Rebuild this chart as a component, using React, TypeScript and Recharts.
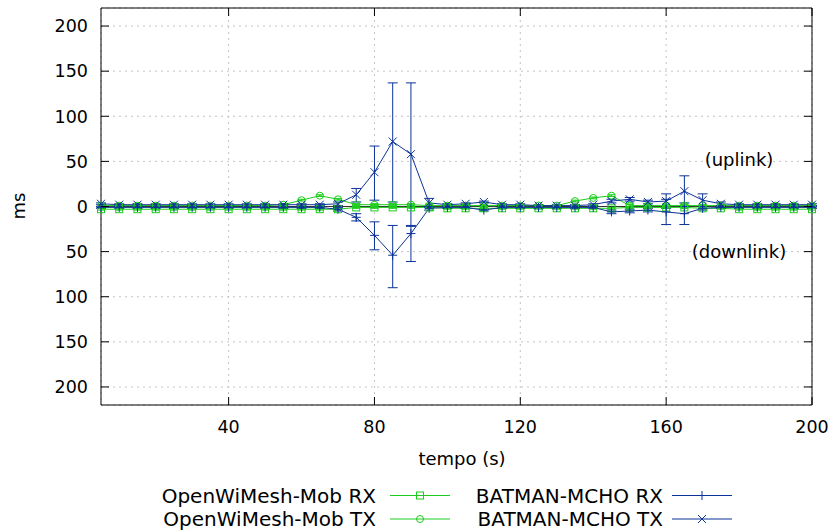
import React from 'react';
import {
  ComposedChart,
  Line,
  XAxis,
  YAxis,
  CartesianGrid,
  ErrorBar,
  ReferenceLine,
  ReferenceArea,
} from 'recharts';

// tempo (s)
const times = [
  5, 10, 15, 20, 25, 30, 35, 40, 45, 50, 55, 60, 65, 70, 75, 80, 85, 90, 95, 100,
  105, 110, 115, 120, 125, 130, 135, 140, 145, 150, 155, 160, 165, 170, 175, 180, 185, 190, 195, 200,
];

// uplink (TX) drawn above zero, downlink (RX) drawn below zero
const owmTx = [
  1, 1, 1, 1, 1, 1, 1, 1, 1, 1, 2, 7, 12, 8, 2, 2, 2, 2, 1, 1,
  1, 1, 1, 1, 1, 1, 6, 9.5, 12, 1, 1, 1, 1, 1, 1, 1, 1, 1, 1, 1,
];
const owmTxErr = [
  1, 1, 1, 1, 1, 1, 1, 1, 1, 1, 1, 1, 1, 1, 1, 1, 1, 1, 1, 1,
  1, 1, 1, 1, 1, 1, 1, 1, 1, 1, 1, 1, 1, 1, 1, 1, 1, 1, 1, 1,
];
const owmRx = [
  -3, -3, -3, -3, -3, -3, -3, -3, -3, -3, -3, -3, -3, -3, -1, -1, -1, -1, -1, -2,
  -2, -2, -2, -2, -2, -2, -2, -2, -2, -1, -1, -1, -1, -2, -2, -3, -3, -3, -3, -3,
];
const owmRxErr = [
  1, 1, 1, 1, 1, 1, 1, 1, 1, 1, 1, 1, 1, 1, 1, 1, 1, 1, 1, 1,
  1, 1, 1, 1, 1, 1, 1, 1, 1, 1, 1, 1, 1, 1, 1, 1, 1, 1, 1, 1,
];
const batTx = [
  3, 2, 2, 2, 2, 2, 2, 2, 2, 2, 2, 2, 2, 3, 13, 38, 72, 58, 4, 2,
  3, 5, 2, 2, 1, 1, 1, 2, 6, 8, 5, 6, 17, 7, 3, 2, 2, 2, 2, 2,
];
const batTxErr: (number | [number, number])[] = [
  1, 1, 1, 1, 1, 1, 1, 1, 1, 1, 1, 1, 1, 2, [8, 7], [31, 29], [67, 65], [80, 79], 5, 1,
  1, 1, 1, 1, 1, 1, 1, 1, 2, 2, 2, 8, 17, 7, 2, 1, 1, 1, 1, 1,
];
const batRx = [
  -1, -1, -1, -1, -1, -1, -1, -1, -1, -1, -1, -1, -1, -3, -12, -32, -54, -30, -2, -1,
  -1, -4, -1, -1, -1, -1, -1, -1, -6, -5, -4, -6, -8, -2, -1, -1, -1, -1, -1, -1,
];
const batRxErr: (number | [number, number])[] = [
  1, 1, 1, 1, 1, 1, 1, 1, 1, 1, 1, 1, 1, 2, 4, [16, 15], [36, 33], [31, 9], 2, 1,
  1, 1, 1, 1, 1, 1, 1, 1, 2, 2, 2, 14, 12, 2, 1, 1, 1, 1, 1, 1,
];

const xTicks = [40, 80, 120, 160, 200];
const yTicks = [-200, -150, -100, -50, 0, 50, 100, 150, 200];

const GREEN = '#1ccc1c';
const BLUE = '#0c3399';
const FONT = '"DejaVu Sans", sans-serif';

const PLOT_L = 101;
const PLOT_R = 812;
const PLOT_T = 8;
const PLOT_B = 405;

const data = times.map((t, i) => ({
  t,
  owmTx: owmTx[i],
  owmTxErr: owmTxErr[i],
  owmRx: owmRx[i],
  owmRxErr: owmRxErr[i],
  batTx: batTx[i],
  batTxErr: batTxErr[i],
  batRx: batRx[i],
  batRxErr: batRxErr[i],
}));

const Square = ({ cx, cy, color }: any) => (
  <rect x={cx - 3.5} y={cy - 3.5} width={7} height={7} fill="none" stroke={color} strokeWidth={1} />
);
const Circle = ({ cx, cy, color }: any) => (
  <circle cx={cx} cy={cy} r={3.5} fill="none" stroke={color} strokeWidth={1} />
);
const Plus = ({ cx, cy, color }: any) => (
  <path d={`M${cx - 4.5},${cy}H${cx + 4.5}M${cx},${cy - 4.5}V${cy + 4.5}`} stroke={color} strokeWidth={1} />
);
const Cross = ({ cx, cy, color }: any) => (
  <path d={`M${cx - 4},${cy - 4}L${cx + 4},${cy + 4}M${cx - 4},${cy + 4}L${cx + 4},${cy - 4}`} stroke={color} strokeWidth={1} />
);

const mkDot = (Shape: any, color: string, name: string) => (p: any) =>
  <Shape key={`${name}-${p.index}`} cx={p.cx} cy={p.cy} color={color} />;

const YTick = ({ y, payload }: any) => (
  <g>
    <line x1={PLOT_L} x2={PLOT_L + 8} y1={y} y2={y} stroke="#000" />
    <line x1={PLOT_R - 8} x2={PLOT_R} y1={y} y2={y} stroke="#000" />
    <text x={PLOT_L - 13} y={y} dy="0.36em" textAnchor="end" fontSize={17.5} fontFamily={FONT} fill="#000">
      {Math.abs(payload.value)}
    </text>
  </g>
);

const XTick = ({ x, payload }: any) => (
  <g>
    <line x1={x} x2={x} y1={PLOT_B} y2={PLOT_B - 8} stroke="#000" />
    <line x1={x} x2={x} y1={PLOT_T} y2={PLOT_T + 8} stroke="#000" />
    <text x={x} y={PLOT_B + 28} textAnchor="middle" fontSize={17.5} fontFamily={FONT} fill="#000">
      {payload.value}
    </text>
  </g>
);

const LegendSample = ({ x, y, color, Shape }: any) => (
  <g>
    <line x1={x} x2={x + 60} y1={y} y2={y} stroke={color} strokeWidth={1} />
    <Shape cx={x + 30} cy={y} color={color} />
  </g>
);

const legendRows = [
  { label: 'OpenWiMesh-Mob RX', color: GREEN, Shape: Square, col: 0, row: 0 },
  { label: 'OpenWiMesh-Mob TX', color: GREEN, Shape: Circle, col: 0, row: 1 },
  { label: 'BATMAN-MCHO RX', color: BLUE, Shape: Plus, col: 1, row: 0 },
  { label: 'BATMAN-MCHO TX', color: BLUE, Shape: Cross, col: 1, row: 1 },
];

export default function App() {
  return (
    <div style={{ position: 'absolute', left: 0, top: 0, width: 834, height: 532, background: '#fff' }}>
      <ComposedChart width={834} height={532} data={data} margin={{ top: PLOT_T, right: 834 - PLOT_R, bottom: 0, left: 0 }}>
        <CartesianGrid stroke="#c4c4c4" strokeDasharray="2 4" />
        <XAxis
          dataKey="t"
          type="number"
          domain={[5, 200]}
          ticks={xTicks}
          height={532 - PLOT_B}
          axisLine={false}
          tickLine={false}
          tickSize={0}
          tick={<XTick />}
          interval={0}
        />
        <YAxis
          type="number"
          domain={[-220, 220]}
          ticks={yTicks}
          width={PLOT_L}
          axisLine={false}
          tickLine={false}
          tickSize={0}
          tick={<YTick />}
          interval={0}
        />
        <ReferenceLine y={0} stroke="#333" strokeWidth={1} />
        <Line dataKey="owmRx" stroke={GREEN} strokeWidth={1} dot={mkDot(Square, GREEN, 'owmRx')} isAnimationActive={false}>
          <ErrorBar dataKey="owmRxErr" direction="y" width={4} stroke={GREEN} strokeWidth={1} />
        </Line>
        <Line dataKey="owmTx" stroke={GREEN} strokeWidth={1} dot={mkDot(Circle, GREEN, 'owmTx')} isAnimationActive={false}>
          <ErrorBar dataKey="owmTxErr" direction="y" width={4} stroke={GREEN} strokeWidth={1} />
        </Line>
        <Line dataKey="batRx" stroke={BLUE} strokeWidth={1} dot={mkDot(Plus, BLUE, 'batRx')} isAnimationActive={false}>
          <ErrorBar dataKey="batRxErr" direction="y" width={5} stroke={BLUE} strokeWidth={1} />
        </Line>
        <Line dataKey="batTx" stroke={BLUE} strokeWidth={1} dot={mkDot(Cross, BLUE, 'batTx')} isAnimationActive={false}>
          <ErrorBar dataKey="batTxErr" direction="y" width={5} stroke={BLUE} strokeWidth={1} />
        </Line>
        <ReferenceArea x1={5} x2={200} y1={-220} y2={220} fill="none" fillOpacity={0} stroke="#000" strokeWidth={1} ifOverflow="visible" />
      </ComposedChart>
      <svg width={834} height={532} style={{ position: 'absolute', left: 0, top: 0, pointerEvents: 'none' }}>
        <g fontFamily={FONT} fontSize={18} fill="#000">
          <text x={739} y={166} textAnchor="middle">(uplink)</text>
          <text x={739} y={258} textAnchor="middle">(downlink)</text>
          <text x={462} y={465} textAnchor="middle">tempo (s)</text>
          <text transform="translate(25,206) rotate(-90)" textAnchor="middle">ms</text>
        </g>
        <g fontFamily={FONT} fontSize={20} fill="#000">
          {legendRows.map((r) => {
            const textEnd = r.col === 0 ? 376 : 663;
            const sx = r.col === 0 ? 390 : 672;
            const y = 495.5 + r.row * 23.5;
            return (
              <g key={r.label}>
                <text x={textEnd} y={y} dy="0.36em" textAnchor="end">{r.label}</text>
                <LegendSample x={sx} y={y} color={r.color} Shape={r.Shape} />
              </g>
            );
          })}
        </g>
      </svg>
    </div>
  );
}
